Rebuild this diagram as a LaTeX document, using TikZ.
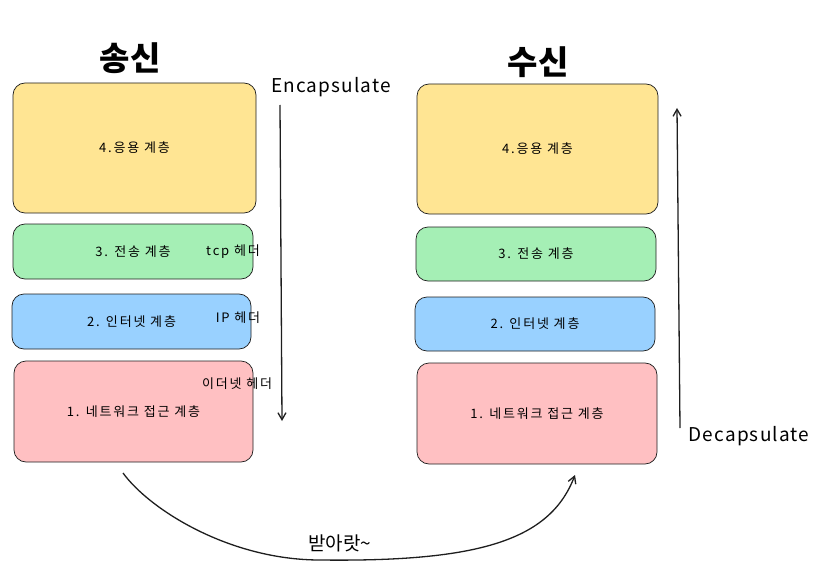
\documentclass[tikz,border=0pt]{standalone}
\usepackage{fontspec}
\setmainfont{Noto Sans CJK KR}
\usepackage{tikz}
\usetikzlibrary{positioning}
\usetikzlibrary{calc}
\usetikzlibrary{arrows.meta}

\definecolor{inkGray}{HTML}{1E1E1E}
\definecolor{appYellow}{HTML}{FFE593}
\definecolor{tcpGreen}{HTML}{A5EFB5}
\definecolor{ipBlue}{HTML}{99D1FF}
\definecolor{netPink}{HTML}{FFC0C2}

\tikzset{
	layer/.style={draw=inkGray, line width=0.7pt, rounded corners=12pt,
		inner sep=0pt, outer sep=0pt,
		font=\fontsize{13}{15}\selectfont\addfontfeature{LetterSpace=14}},
	header/.style={inner sep=0pt,
		font=\fontsize{13}{15}\selectfont\addfontfeature{LetterSpace=14}},
	title/.style={inner sep=0pt, font=\fontsize{33}{37}\selectfont\bfseries},
	flowtext/.style={inner sep=0pt,
		font=\fontsize{19}{22}\selectfont\addfontfeature{LetterSpace=6}},
	flow/.style={draw=inkGray, line width=1.3pt, -{Straight Barb[length=7pt,width=8pt]}}
}

\begin{document}
\begin{tikzpicture}[x=1pt, y=-1pt]

\useasboundingbox (0,0) rectangle (832,580);

% --- sending side

\node[title] (sendTitle) at (130,58) {송신};

\node[
	layer,
	fill=appYellow,
	minimum width=243pt,
	minimum height=130pt
] (sendApp) at (134.5,148) {4.응용 계층};

\node[
	layer,
	fill=tcpGreen,
	minimum width=240pt,
	minimum height=55pt
] (sendTcp) at (133,251.5) {3. 전송 계층};

\node[
	layer,
	fill=ipBlue,
	minimum width=239pt,
	minimum height=55pt
] (sendIp) at (131.5,321.5) {2. 인터넷 계층};

\node[
	layer,
	fill=netPink,
	minimum width=239pt,
	minimum height=101pt
] (sendNet) at (133.5,411.5) {1. 네트워크 접근 계층};

\node[header] (tcpHead) at (233,252) {tcp 헤더};
\node[header] (ipHead) at (238,318) {IP 헤더};
\node[header] (etherHead) at (237,384) {이더넷 헤더};

% --- receiving side

\node[title] (recvTitle) at (538,62) {수신};

\node[
	layer,
	fill=appYellow,
	minimum width=241pt,
	minimum height=130pt
] (recvApp) at (537.5,149) {4.응용 계층};

\node[
	layer,
	fill=tcpGreen,
	minimum width=240pt,
	minimum height=54pt
] (recvTcp) at (536,254) {3. 전송 계층};

\node[
	layer,
	fill=ipBlue,
	minimum width=240pt,
	minimum height=54pt
] (recvIp) at (535,324) {2. 인터넷 계층};

\node[
	layer,
	fill=netPink,
	minimum width=240pt,
	minimum height=101pt
] (recvNet) at (537,413.5) {1. 네트워크 접근 계층};

% ---

\node[flowtext] (encLabel) at (331,87) {Encapsulate};
\node[flowtext] (decLabel) at (749,436) {Decapsulate};

\coordinate (encTop) at (280,105);
\coordinate (encBot) at (282,421);
\coordinate (decBot) at (680,428);
\coordinate (decTop) at (677,108);
\coordinate (sendOut) at (123,473);
\coordinate (wireLow) at (320,560);
\coordinate (recvIn) at (575,475);

\draw[flow] (encTop) -- (encBot);
\draw[flow] (decBot) -- (decTop);

\draw[flow] (sendOut) .. controls (150,510) and (230,560) .. (wireLow)
	.. controls (480,562) and (550,540) .. (recvIn);

\node[header, font=\fontsize{19}{21}\selectfont] (sendLabel) at (340,543) {받아랏\textasciitilde};

\end{tikzpicture}
\end{document}
